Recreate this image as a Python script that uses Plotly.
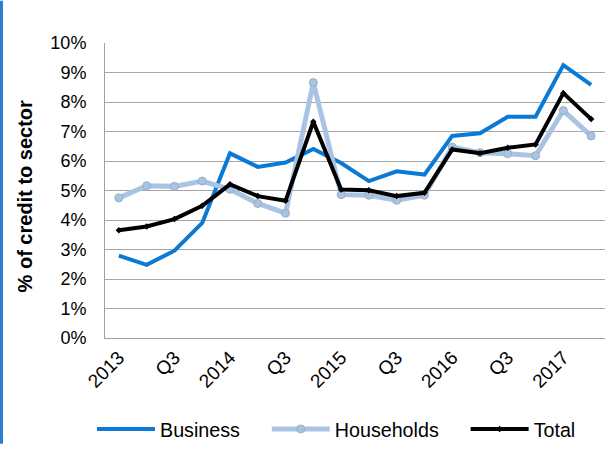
import plotly.graph_objects as go

quarters = ["2013 Q1", "2013 Q2", "2013 Q3", "2013 Q4",
            "2014 Q1", "2014 Q2", "2014 Q3", "2014 Q4",
            "2015 Q1", "2015 Q2", "2015 Q3", "2015 Q4",
            "2016 Q1", "2016 Q2", "2016 Q3", "2016 Q4",
            "2017 Q1", "2017 Q2"]
tick_vals = ["2013 Q1", "2013 Q3", "2014 Q1", "2014 Q3", "2015 Q1",
             "2015 Q3", "2016 Q1", "2016 Q3", "2017 Q1"]
tick_text = ["2013", "Q3", "2014", "Q3", "2015", "Q3", "2016", "Q3", "2017"]

business = [2.79, 2.48, 2.96, 3.90, 6.26, 5.80, 5.95, 6.41, 5.93,
            5.32, 5.65, 5.54, 6.85, 6.94, 7.50, 7.50, 9.25, 8.58]
households = [4.75, 5.16, 5.14, 5.32, 5.04, 4.56, 4.23, 8.66, 4.86,
              4.84, 4.67, 4.84, 6.47, 6.28, 6.25, 6.18, 7.71, 6.85]
total = [3.65, 3.78, 4.03, 4.48, 5.21, 4.81, 4.65, 7.33, 5.03,
         5.01, 4.81, 4.92, 6.39, 6.26, 6.45, 6.56, 8.30, 7.42]

# convert to fractions for % tick format
business = [v / 100 for v in business]
households = [v / 100 for v in households]
total = [v / 100 for v in total]

font = "Liberation Sans, Arial, sans-serif"
pad = "\u00a0" * 4  # extra gap between legend entries

fig = go.Figure()
fig.add_trace(go.Scatter(x=quarters, y=business, name="Business" + pad, mode="lines",
                         line=dict(color="#0a7ad4", width=4)))
fig.add_trace(go.Scatter(x=quarters, y=households, name="Households" + pad, mode="lines+markers",
                         line=dict(color="#a9c4e2", width=5),
                         marker=dict(symbol="circle", size=8, color="#a9c4e2",
                                     line=dict(color="#98aec8", width=1))))
fig.add_trace(go.Scatter(x=quarters, y=total, name="Total", mode="lines+markers",
                         line=dict(color="#000000", width=4),
                         marker=dict(symbol="diamond", size=5, color="#000000")))

W, H = 608, 452
ml, mr, mt, mb = 105, 3, 43, 108
pw, ph = W - ml - mr, H - mt - mb

fig.update_layout(
  width=W, height=H, autosize=False,
  margin=dict(l=ml, r=mr, t=mt, b=mb),
  paper_bgcolor="white", plot_bgcolor="white",
  font=dict(family=font, size=19, color="#000000"),
  showlegend=True,
  legend=dict(orientation="h", x=(92 - ml) / pw, xanchor="left", y=-93 / ph, yanchor="middle",
              font=dict(size=19.7), itemwidth=58, tracegroupgap=0),
  shapes=[dict(type="rect", xref="paper", yref="paper",
               x0=-ml / pw, x1=(3 - ml) / pw, y0=-mb / ph, y1=1 + mt / ph,
               fillcolor="#2a7fcf", line=dict(width=0))],
  annotations=[dict(text="<b>% of credit to sector</b>", xref="paper", yref="paper",
                    x=(25 - ml) / pw, y=0.48, textangle=-90, showarrow=False,
                    xanchor="center", yanchor="middle", font=dict(size=20))],
)

fig.update_xaxes(type="category", tickmode="array", tickvals=tick_vals, ticktext=tick_text,
                 tickangle=-45, showgrid=False, showline=True, linecolor="#a0a0a0",
                 ticks="", tickfont=dict(size=19), range=[-0.5, len(quarters) - 0.5],
                 automargin=False)
fig.update_yaxes(range=[0, 0.10], dtick=0.01, tickformat=".0%", showgrid=True,
                 gridcolor="#a6a6a6", gridwidth=1, showline=True, linecolor="#a0a0a0",
                 zeroline=False, ticks="", tickfont=dict(size=18), ticklabelstandoff=14,
                 automargin=False)

fig.write_html("out.html", config={"displayModeBar": False, "responsive": False},
               post_script="document.body.style.margin='0';document.body.style.overflow='hidden';")
